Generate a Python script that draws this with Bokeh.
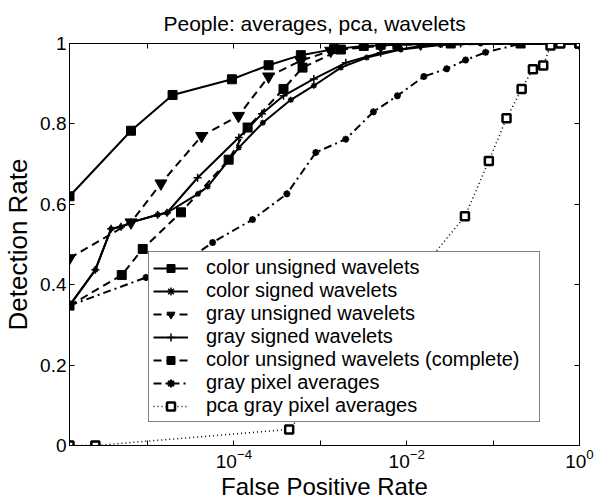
from bokeh.plotting import figure
from bokeh.models import Range1d, FixedTicker, LinearAxis, LogAxis, Legend, LegendItem
from bokeh.embed import file_html
from bokeh.resources import INLINE

# ---- data ----
cuw_x = [1.25e-6, 6.44e-6, 1.95e-5, 9.48e-5, 2.52e-4, 5.95e-4, 1.44e-3, 3.18e-3, 7.80e-3, 3.23e-2, 0.208, 1.0]
cuw_y = [0.620, 0.783, 0.872, 0.911, 0.946, 0.971, 0.986, 0.994, 0.997, 1.0, 1.0, 1.0]

csw_x = [1.25e-6, 2.49e-6, 3.79e-6, 4.94e-6, 6.44e-6, 1.31e-5, 1.68e-5, 3.84e-5, 4.97e-5, 1.14e-4,
         2.16e-4, 4.56e-4, 8.41e-4, 1.73e-3, 3.45e-3, 8.53e-3, 2.47e-2, 7.16e-2, 1.0]
csw_y = [0.348, 0.437, 0.539, 0.544, 0.555, 0.574, 0.579, 0.626, 0.644, 0.741,
         0.803, 0.860, 0.895, 0.940, 0.965, 0.985, 0.996, 1.0, 1.0]

guw_x = [1.25e-6, 6.44e-6, 1.43e-5, 4.23e-5, 1.13e-4, 2.52e-4, 5.95e-4, 1.32e-3, 5.0e-3, 1.45e-2, 1.0]
guw_y = [0.466, 0.555, 0.652, 0.770, 0.820, 0.918, 0.957, 0.982, 0.994, 1.0, 1.0]

gsw_x = [1.25e-6, 2.49e-6, 3.79e-6, 4.94e-6, 6.44e-6, 1.31e-5, 1.68e-5, 3.80e-5, 1.14e-4, 2.11e-4,
         3.75e-4, 8.41e-4, 1.97e-3, 5.0e-3, 1.45e-2, 4.21e-2, 1.0]
gsw_y = [0.348, 0.437, 0.539, 0.544, 0.555, 0.574, 0.579, 0.666, 0.766, 0.825,
         0.870, 0.912, 0.952, 0.977, 0.994, 1.0, 1.0]

cuc_x = [1.25e-6, 5.03e-6, 8.80e-6, 2.44e-5, 8.69e-5, 1.44e-4, 3.75e-4, 6.23e-4, 1.73e-3, 5.0e-3, 1.0]
cuc_y = [0.348, 0.424, 0.489, 0.580, 0.711, 0.791, 0.887, 0.940, 0.985, 0.997, 1.0]

gpa_x = [1.25e-6, 9.61e-6, 2.31e-5, 5.67e-5, 1.64e-4, 4.10e-4, 8.87e-4, 1.97e-3, 4.12e-3, 7.80e-3,
         1.58e-2, 2.90e-2, 4.81e-2, 8.19e-2, 0.214, 1.0]
gpa_y = [0.348, 0.418, 0.447, 0.505, 0.562, 0.626, 0.729, 0.762, 0.830, 0.870,
         0.918, 0.937, 0.959, 0.978, 1.0, 1.0]

pca_x = [1.25e-6, 2.49e-6, 4.36e-4, 4.72e-2, 8.93e-2, 0.143, 0.214, 0.289, 0.380, 0.462, 0.6, 1.0]
pca_y = [0.0, 0.0, 0.040, 0.570, 0.708, 0.814, 0.887, 0.936, 0.945, 0.995, 1.0, 1.0]

labels = ["color unsigned wavelets", "color signed wavelets", "gray unsigned wavelets",
          "gray signed wavelets", "color unsigned wavelets (complete)", "gray pixel averages",
          "pca gray pixel averages"]

x_major = [1e-4, 1e-2, 1.0]
x_minor = [1e-5, 1e-3, 1e-1]
y_ticks = [0, 0.2, 0.4, 0.6, 0.8, 1.0]
y_tick_labels = ["0", "0.2", "0.4", "0.6", "0.8", "1"]

FONT = "Liberation Sans"

p = figure(width=600, height=503, x_axis_type="log",
           x_range=Range1d(1.25e-6, 1.0), y_range=Range1d(0, 1),
           output_backend="svg", toolbar_location=None,
           min_border_left=68, min_border_right=21, min_border_top=43, min_border_bottom=58,
           title="People: averages, pca, wavelets")
p.title.align = "left"
p.title.offset = 94
p.title.text_font = FONT
p.title.text_font_size = "21px"
p.title.text_font_style = "normal"
p.title.text_color = "black"
if "standoff" in p.title.properties():
    p.title.standoff = 17
p.grid.visible = False
p.outline_line_color = "black"
p.outline_line_width = 1
p.background_fill_color = "white"

# main axes
xa = p.xaxis[0]
xa.ticker = FixedTicker(ticks=x_major, minor_ticks=x_minor)
ya = p.yaxis[0]
ya.ticker = FixedTicker(ticks=y_ticks)
ya.major_label_overrides = {t: l for t, l in zip(y_ticks, y_tick_labels)}
for ax in (xa, ya):
    ax.major_tick_in = 5
    ax.major_tick_out = 0
    ax.minor_tick_in = 5
    ax.minor_tick_out = 0
    ax.axis_line_color = "black"
    ax.major_tick_line_color = "black"
    ax.minor_tick_line_color = "black"
    ax.major_label_text_font = FONT
    ax.major_label_text_font_size = "19px"
    ax.major_label_text_color = "black"
    ax.axis_label_text_font = FONT
    ax.axis_label_text_font_style = "normal"
    ax.axis_label_text_color = "black"
xa.axis_label = "False Positive Rate"
ya.axis_label = "Detection Rate"
xa.axis_label_text_font_size = "24px"
ya.axis_label_text_font_size = "26px"
xa.major_label_standoff = 3
xa.axis_label_standoff = 2
ya.major_label_standoff = 3
ya.axis_label_standoff = 4

# mirrored ticks on top and right (labels invisible)
top = LogAxis(ticker=FixedTicker(ticks=x_major, minor_ticks=x_minor))
right = LinearAxis(ticker=FixedTicker(ticks=y_ticks))
for ax in (top, right):
    ax.major_tick_in = 5
    ax.major_tick_out = 0
    ax.minor_tick_in = 5
    ax.minor_tick_out = 0
    ax.major_label_text_font_size = "2px"
    ax.major_label_text_alpha = 0
    ax.major_label_standoff = 0
    ax.axis_line_color = "black"
p.add_layout(top, "above")
p.add_layout(right, "right")

items = []

def series(xs, ys, label, dash, marker, msize, fill="black", lw=2.0, mlw=1.0):
    r1 = p.line(xs, ys, line_color="black", line_width=lw, line_dash=dash)
    r2 = p.scatter(xs, ys, marker=marker, size=msize, line_color="black",
                   fill_color=fill, line_width=mlw)
    items.append(LegendItem(label=label, renderers=[r1, r2]))

series(cuw_x, cuw_y, labels[0], "solid", "square", 9)
series(csw_x, csw_y, labels[1], "solid", "asterisk", 6, mlw=1.5)
series(guw_x, guw_y, labels[2], "8 5", "inverted_triangle", 12)
series(gsw_x, gsw_y, labels[3], "solid", "cross", 8, mlw=1.5)
series(cuc_x, cuc_y, labels[4], "8 5", "square", 9)
series(gpa_x, gpa_y, labels[5], "8 4 2 4", "asterisk", 7, mlw=2)
series(pca_x, pca_y, labels[6], "1 3", "square", 8, fill="white", lw=1.5, mlw=2.5)

legend = Legend(items=items, location=(79, 23))
legend.border_line_color = "black"
legend.border_line_width = 1
legend.background_fill_color = "white"
legend.background_fill_alpha = 1.0
legend.label_text_font = FONT
legend.label_text_font_size = "20px"
legend.label_text_color = "black"
legend.glyph_width = 35
legend.glyph_height = 20
legend.label_height = 20
legend.label_width = 329
legend.spacing = 0
legend.padding = 4
legend.margin = 0
legend.label_standoff = 18
p.add_layout(legend, "center")

open("out.html", "w").write(file_html(p, INLINE))
